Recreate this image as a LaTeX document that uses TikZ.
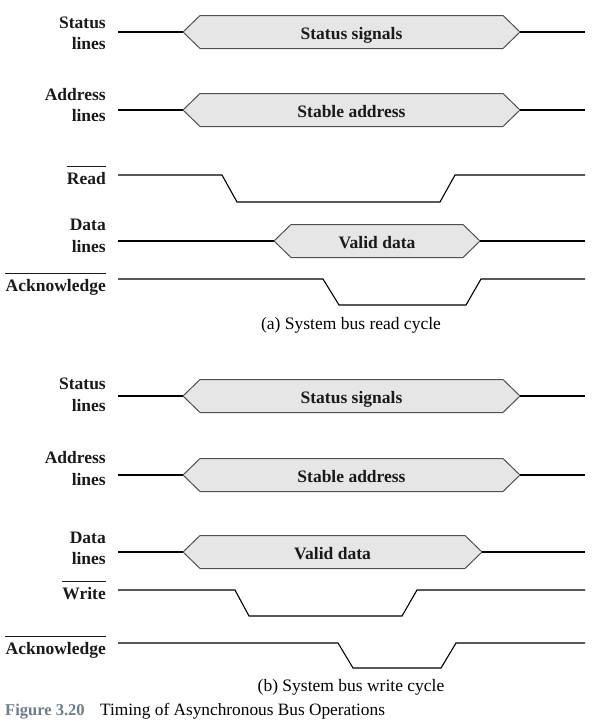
\documentclass[tikz,border=0pt]{standalone}
\usepackage{fontspec}
\setmainfont{Liberation Serif}
\definecolor{hexfill}{HTML}{E6E6E6}
\definecolor{hexdraw}{HTML}{505050}
\definecolor{labcol}{HTML}{1A1A1A}
\definecolor{figcol}{HTML}{6E7B8B}
\tikzset{
  sig/.style={line width=1.1pt, black, line join=miter},
  hexbox/.style={fill=hexfill, draw=hexdraw, line width=1pt},
  lab/.style={font=\fontsize{17.5}{20}\selectfont\bfseries, text=labcol, inner sep=0pt, anchor=base east},
  hextext/.style={font=\fontsize{17.5}{20}\selectfont\bfseries, text=labcol, inner sep=0pt, anchor=base},
  captext/.style={font=\fontsize{17.5}{20}\selectfont, inner sep=0pt, anchor=base},
  ovl/.style={line width=0.9pt, labcol}
}
% bus segment: #1 name, #2 x left tip, #3 x right tip, #4 centre y, #5 text
\newcommand\busseg[5]{%
  \coordinate (#1L) at (#2,#4);
  \coordinate (#1R) at (#3,#4);
  \draw[hexbox] (#1L) -- (#2+17,#4-16.5) -- (#3-17,#4-16.5) -- (#1R)
     -- (#3-17,#4+16.5) -- (#2+17,#4+16.5) -- cycle;
  \node[hextext] (#1T) at ({(#2+#3)/2},#4+7.5) {#5};
}
\begin{document}
\begin{tikzpicture}[x=1pt,y=-1pt]
\useasboundingbox (0,0) rectangle (595,728);

% ================= (a) read cycle =================
% Status lines
\node[lab] (aS1) at (106,28) {Status};
\node[lab] (aS2) at (106,49) {lines};
\coordinate (aSs) at (118,32);
\coordinate (aSe) at (585,32);
\busseg{aSh}{183}{520}{32}{Status signals}
\draw[sig] (aSs) -- (aShL);
\draw[sig] (aShR) -- (aSe);

% Address lines
\node[lab] (aA1) at (106,100) {Address};
\node[lab] (aA2) at (106,121) {lines};
\coordinate (aAs) at (118,110);
\coordinate (aAe) at (585,110);
\busseg{aAh}{183}{520}{110}{Stable address}
\draw[sig] (aAs) -- (aAhL);
\draw[sig] (aAhR) -- (aAe);

% Read
\node[lab] (aR) at (106,184) {Read};
\draw[ovl] ([yshift=5pt]aR.north west) -- ([yshift=5pt]aR.north east);
\draw[sig] (118,175) -- (222,175) -- (237,202) -- (440,202) -- (455,175) -- (585,175);

% Data lines
\node[lab] (aD1) at (106,230) {Data};
\node[lab] (aD2) at (106,252) {lines};
\coordinate (aDs) at (118,241);
\coordinate (aDe) at (585,241);
\busseg{aDh}{274}{480}{241}{Valid data}
\draw[sig] (aDs) -- (aDhL);
\draw[sig] (aDhR) -- (aDe);

% Acknowledge
\node[lab] (aK) at (106,291) {Acknowledge};
\draw[ovl] ([yshift=5pt]aK.north west) -- ([yshift=5pt]aK.north east);
\draw[sig] (118,279) -- (323,279) -- (339,305) -- (466,305) -- (481,279) -- (585,279);

\node[captext] (capa) at (351,329) {(a) System bus read cycle};

% ================= (b) write cycle =================
\node[lab] (bS1) at (106,389) {Status};
\node[lab] (bS2) at (106,411) {lines};
\coordinate (bSs) at (118,396);
\coordinate (bSe) at (585,396);
\busseg{bSh}{183}{520}{396}{Status signals}
\draw[sig] (bSs) -- (bShL);
\draw[sig] (bShR) -- (bSe);

\node[lab] (bA1) at (106,463) {Address};
\node[lab] (bA2) at (106,485) {lines};
\coordinate (bAs) at (118,475);
\coordinate (bAe) at (585,475);
\busseg{bAh}{183}{520}{475}{Stable address}
\draw[sig] (bAs) -- (bAhL);
\draw[sig] (bAhR) -- (bAe);

\node[lab] (bD1) at (106,543) {Data};
\node[lab] (bD2) at (106,564) {lines};
\coordinate (bDs) at (118,552);
\coordinate (bDe) at (585,552);
\busseg{bDh}{183}{482}{552}{Valid data}
\draw[sig] (bDs) -- (bDhL);
\draw[sig] (bDhR) -- (bDe);

\node[lab] (bW) at (106,599) {Write};
\draw[ovl] ([yshift=5pt]bW.north west) -- ([yshift=5pt]bW.north east);
\draw[sig] (118,590) -- (235,590) -- (249,616) -- (402,616) -- (417,590) -- (585,590);

\node[lab] (bK) at (106,654) {Acknowledge};
\draw[ovl] ([yshift=5pt]bK.north west) -- ([yshift=5pt]bK.north east);
\draw[sig] (118,643) -- (338,643) -- (353,668) -- (441,668) -- (456,643) -- (585,643);

\node[captext] (capb) at (351,691) {(b) System bus write cycle};

% Figure caption
\node[font=\fontsize{16.5}{20}\selectfont\bfseries, text=figcol, inner sep=0pt, anchor=base west] (fignum) at (5,715.5) {Figure 3.20};
\node[font=\fontsize{17.3}{20}\selectfont, inner sep=0pt, anchor=base west] (figtxt) at (100,715.5) {Timing of Asynchronous Bus Operations};
\end{tikzpicture}
\end{document}
